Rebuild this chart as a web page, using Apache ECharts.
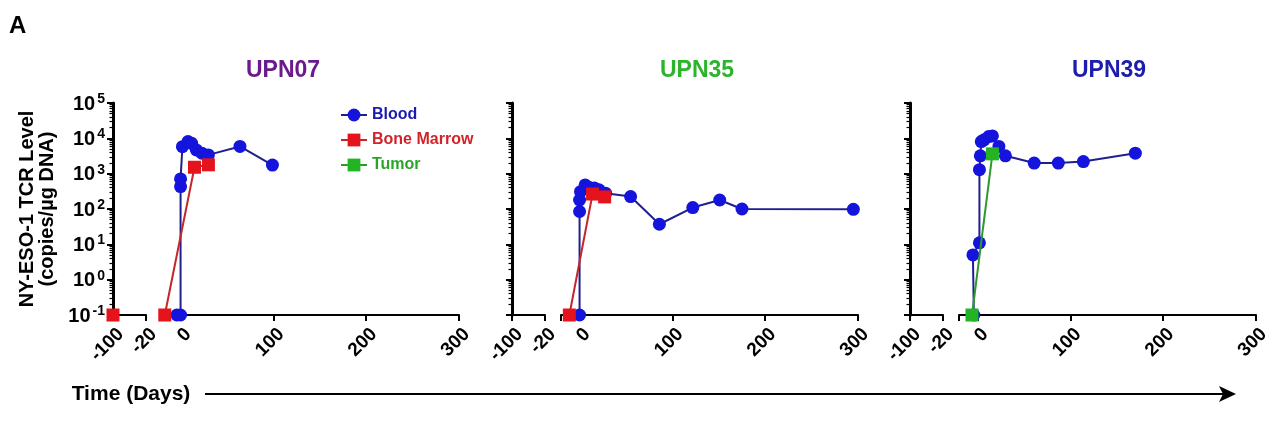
<!DOCTYPE html>
<html>
<head>
<meta charset="utf-8">
<script src="https://cdn.jsdelivr.net/npm/echarts@6/dist/echarts.min.js"></script>
<style>
html,body{margin:0;padding:0;background:#fff;}
#chart{width:1280px;height:436px;}
</style>
</head>
<body>
<div id="chart"></div>
<script>
// ---------- DATA ----------
const panelTitles = ['UPN07', 'UPN35', 'UPN39'];
const seriesNames = ['Blood', 'Bone Marrow', 'Tumor'];
const yTickValues = [0.1, 1, 10, 100, 1000, 10000, 100000];
const leftTickDays = [-100, -20];
const rightTickDays = [0, 100, 200, 300];

// UPN07
const u07BloodDays = [-4, 0, 0, 0, 2, 8, 12, 17, 23, 30, 64, 99];
const u07BloodVals = [0.1, 0.1, 430, 710, 5800, 8100, 7200, 4700, 3800, 3400, 5900, 1750];
const u07MarrowDays = [-100, -17, 15, 30];
const u07MarrowVals = [0.1, 0.1, 1520, 1780];

// UPN35
const u35BloodDays = [0, 0, 0, 1, 6, 10, 16, 21, 28, 55, 86, 122, 151, 175, 295];
const u35BloodVals = [0.1, 85, 180, 310, 480, 415, 390, 350, 280, 225, 37, 110, 180, 100, 98];
const u35MarrowDays = [-11, 14, 27];
const u35MarrowVals = [0.1, 265, 220];

// UPN39
const u39BloodDays = [-4, -5, 2, 2, 3, 4, 7, 12, 16, 23, 30, 61, 87, 114, 170];
const u39BloodVals = [0.1, 5, 11, 1300, 3200, 8100, 9100, 11200, 11700, 5900, 3200, 2000, 2000, 2200, 3800];
const u39TumorDays = [-6, 16];
const u39TumorVals = [0.1, 3640];

// ---------- STYLE ----------
const FONT = '"Liberation Sans", Arial, Helvetica, sans-serif';
const titleColors = ['#6a1a8c', '#2bb52b', '#1c1cae'];
const markerColor = {'Blood': '#1414dc', 'Bone Marrow': '#e5141c', 'Tumor': '#22b422'};
const lineColor = {'Blood': '#1f1f8e', 'Bone Marrow': '#c4262c', 'Tumor': '#2e9a2e'};
const symbolOf = {'Blood': 'circle', 'Bone Marrow': 'rect', 'Tumor': 'rect'};
const textColor = {'Blood': '#1a1ab0', 'Bone Marrow': '#d2232a', 'Tumor': '#28a628'};

const panels = [
  {series: [['Blood', u07BloodDays, u07BloodVals], ['Bone Marrow', u07MarrowDays, u07MarrowVals]]},
  {series: [['Blood', u35BloodDays, u35BloodVals], ['Bone Marrow', u35MarrowDays, u35MarrowVals]]},
  {series: [['Blood', u39BloodDays, u39BloodVals], ['Tumor', u39TumorDays, u39TumorVals]]}
];

// layout
const panelLeft = [113, 512, 910];
const gridTop = 103, gridH = 212;
const leftW = 33, gapW = 16, rightW = 297;
const BREAK_AT = -20;

const grids = [], xAxes = [], yAxes = [], series = [];

function yAxisFor(gi, showLabels) {
  return {
    type: 'log', logBase: 10, min: 0.1, max: 100000, gridIndex: gi, splitNumber: 6,
    axisLine: {show: true, lineStyle: {color: '#000', width: 3}},
    axisTick: {show: true, length: 6, lineStyle: {color: '#000', width: 2}},
    minorTick: {show: true, splitNumber: 9, length: 3.5, lineStyle: {color: '#000', width: 1.2}},
    splitLine: {show: false},
    axisLabel: {
      show: !!showLabels, margin: 8,
      formatter: v => '{b|10}{s|' + Math.round(Math.log10(v)) + '}',
      rich: {
        b: {fontSize: 20, fontWeight: 'bold', color: '#000', fontFamily: FONT, verticalAlign: 'bottom'},
        s: {fontSize: 14, fontWeight: 'bold', color: '#000', fontFamily: FONT, verticalAlign: 'bottom', padding: [0, 0, 8, 2]}
      }
    }
  };
}

panels.forEach((p, pi) => {
  const o = panelLeft[pi];
  const gL = grids.length;
  grids.push({left: o, top: gridTop, width: leftW, height: gridH});
  const gR = grids.length;
  grids.push({left: o + leftW + gapW, top: gridTop, width: rightW, height: gridH});

  const labelStyle = {rotate: 45, fontSize: 19, fontWeight: 'bold', color: '#000', fontFamily: FONT, margin: 24, padding: [0, -11, 0, 0]};
  xAxes.push({
    type: 'value', gridIndex: gL, min: -100, max: BREAK_AT,
    axisLine: {show: true, onZero: false, lineStyle: {color: '#000', width: 2}},
    axisTick: {show: true, length: 6, customValues: leftTickDays, lineStyle: {color: '#000', width: 2}},
    axisLabel: Object.assign({customValues: leftTickDays}, labelStyle),
    splitLine: {show: false}
  });
  xAxes.push({
    type: 'value', gridIndex: gR, min: BREAK_AT, max: 300,
    axisLine: {show: true, onZero: false, lineStyle: {color: '#000', width: 2}},
    axisTick: {show: true, length: 6, customValues: [BREAK_AT].concat(rightTickDays), lineStyle: {color: '#000', width: 2}},
    axisLabel: Object.assign({customValues: rightTickDays}, labelStyle),
    splitLine: {show: false}
  });
  const yl = yAxisFor(gL, pi === 0);
  if (pi === 0) {
    yl.name = 'NY-ESO-1 TCR Level\n(copies/µg DNA)';
    yl.nameLocation = 'middle';
    yl.nameRotate = 90;
    yl.nameGap = 56;
    yl.nameTextStyle = {fontSize: 20, fontWeight: 'bold', color: '#000', fontFamily: FONT, lineHeight: 20};
  }
  yAxes.push(yl);
  const yr = yAxisFor(gR, false);
  yr.axisLine.show = false; yr.axisTick.show = false; yr.minorTick.show = false;
  yAxes.push(yr);

  p.series.forEach(([name, days, vals]) => {
    const leftPts = [], rightPts = [];
    days.forEach((d, i) => (d < BREAK_AT ? leftPts : rightPts).push([d, vals[i]]));
    const base = {
      type: 'line', name: name, symbol: symbolOf[name], symbolSize: 13,
      itemStyle: {color: markerColor[name]},
      lineStyle: {color: lineColor[name], width: 2},
      clip: false, z: name === 'Blood' ? 3 : 4
    };
    if (leftPts.length) series.push(Object.assign({}, base, {xAxisIndex: gL, yAxisIndex: gL, data: leftPts}));
    if (rightPts.length) series.push(Object.assign({}, base, {xAxisIndex: gR, yAxisIndex: gR, data: rightPts}));
  });
});

const titleCenters = [283, 697, 1109];
const graphics = [
  {type: 'text', left: 9, top: 14, style: {text: 'A', font: 'bold 24px ' + FONT, fill: '#000'}},
  {type: 'text', x: 131, y: 394, style: {text: 'Time (Days)', font: 'bold 21px ' + FONT, fill: '#000', textAlign: 'center', textVerticalAlign: 'middle'}},
  {type: 'line', shape: {x1: 205, y1: 394, x2: 1224, y2: 394}, style: {stroke: '#000', lineWidth: 2}},
  {type: 'polygon', shape: {points: [[1236, 394], [1219, 386], [1223, 394], [1219, 402]]}, style: {fill: '#000'}}
];
panelTitles.forEach((t, i) => {
  graphics.push({type: 'text', x: titleCenters[i], y: 71, style: {text: t, font: 'bold 23px ' + FONT, fill: titleColors[i], textAlign: 'center', textVerticalAlign: 'middle'}});
});

const chart = echarts.init(document.getElementById('chart'), null, {renderer: 'canvas'});
chart.setOption({
  animation: false,
  backgroundColor: '#fff',
  grid: grids,
  xAxis: xAxes,
  yAxis: yAxes,
  legend: {
    left: 335, top: 102, orient: 'vertical', itemWidth: 26, itemHeight: 16, itemGap: 9,
    selectedMode: false,
    textStyle: {fontSize: 16, fontWeight: 'bold', fontFamily: FONT},
    data: seriesNames.map(n => ({name: n, textStyle: {color: textColor[n]}}))
  },
  series: series,
  graphic: graphics
});
</script>
</body>
</html>
